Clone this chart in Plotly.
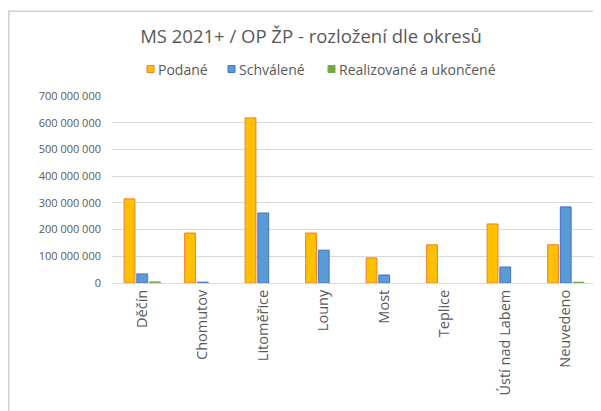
import plotly.graph_objects as go

categories = ["Děčín", "Chomutov", "Litoměřice", "Louny", "Most", "Teplice", "Ústí nad Labem", "Neuvedeno"]
podane = [315e6, 187e6, 618e6, 187e6, 94e6, 143e6, 221e6, 143e6]
schvalene = [34e6, 3e6, 262e6, 123e6, 30e6, None, 60e6, 285e6]
realizovane = [4e6, None, None, None, None, None, None, 3e6]
series_names = ["Podané", "Schválené", "Realizované a ukončené"]
y_ticks = [0, 100e6, 200e6, 300e6, 400e6, 500e6, 600e6, 700e6]

# the page body has an 8px margin, so work in page coordinates minus 8
OFF = 8
W, H = 601 - OFF, 411 - OFF
L, R, T, B = 112 - OFF, 596 - OFF, 96 - OFF, 283.3 - OFF

def px(x):
    return (x - OFF - L) / (R - L)

def py(y):
    return (B - (y - OFF)) / (B - T)

font_family = "'Open Sans', Lato, sans-serif"
grey = "#595959"
fills = ["#FFC000", "#5B9BD5", "#70AD47"]
edges = ["#ED7D31", "#4472C4", "#70AD47"]

fig = go.Figure()
for name, vals, f, e in zip(series_names, [podane, schvalene, realizovane], fills, edges):
    fig.add_trace(go.Bar(name=name, x=categories, y=vals, showlegend=False,
                         marker=dict(color=f, line=dict(color=e, width=1))))

shapes = [
    dict(type="line", xref="paper", yref="paper", x0=px(8.8), x1=px(8.8), y0=py(420), y1=py(11),
         line=dict(color="#d0d0d0", width=1.5)),
    dict(type="line", xref="paper", yref="paper", x0=px(8), x1=px(610), y0=py(11), y1=py(11),
         line=dict(color="#d0d0d0", width=1.5)),
]
annotations = []
legend_x = [147, 228, 328]
legend_y = 69
for name, lx, f, e in zip(series_names, legend_x, fills, edges):
    shapes.append(dict(type="rect", xref="paper", yref="paper",
                       x0=px(lx), x1=px(lx + 7), y0=py(legend_y + 3.5), y1=py(legend_y - 3.5),
                       fillcolor=f, line=dict(color=e, width=1)))
    annotations.append(dict(text=name, xref="paper", yref="paper", x=px(lx + 9), y=py(legend_y),
                            xanchor="left", yanchor="middle", showarrow=False,
                            font=dict(family=font_family, size=14, color=grey)))

fig.update_layout(
    width=W, height=H,
    margin=dict(l=L, r=W - R, t=T, b=H - B, pad=0),
    paper_bgcolor="white", plot_bgcolor="white",
    separators=", ",
    barmode="group", bargap=0.37, bargroupgap=0.15,
    showlegend=False,
    title=dict(text="MS 2021+ / OP ŽP - rozložení dle okresů",
               x=(311 - OFF) / W, xanchor="center", y=1 - (37 - OFF) / H, yanchor="middle",
               font=dict(family=font_family, size=18.5, color=grey)),
    font=dict(family=font_family, color=grey),
    xaxis=dict(tickangle=-90, tickfont=dict(size=14.5, color=grey), showline=True,
               linecolor="#d9d9d9", ticks="", showgrid=False, automargin=False),
    yaxis=dict(range=[0, 700e6], tickvals=y_ticks, tickformat=",d",
               gridcolor="#d9d9d9", gridwidth=1, zeroline=False, automargin=False,
               tickfont=dict(size=11, color=grey), ticks="", ticklabelstandoff=10),
    shapes=shapes,
    annotations=annotations,
)

fig.write_html("out.html")
